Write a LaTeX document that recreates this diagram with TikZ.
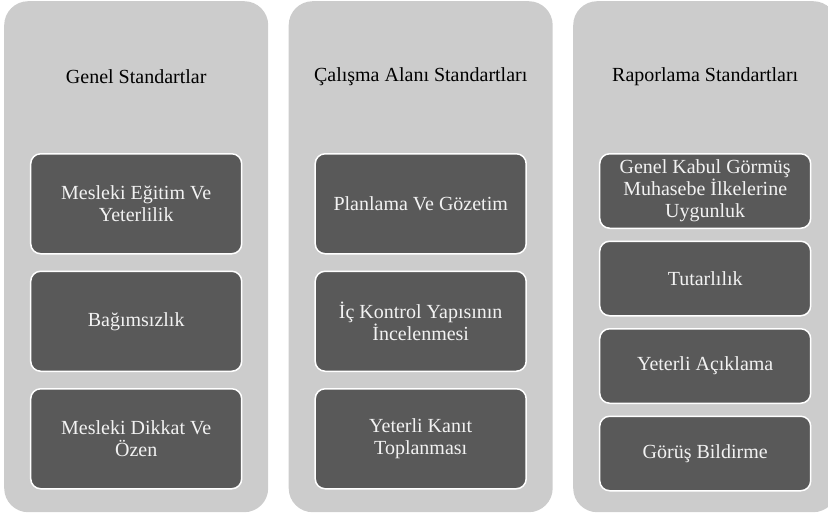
\documentclass[tikz,border=0pt]{standalone}
\usepackage{fontspec}
\setmainfont{Liberation Serif}
\usetikzlibrary{positioning}
\definecolor{panelgray}{HTML}{CCCCCC}
\definecolor{boxgray}{HTML}{595959}
\definecolor{boxtext}{HTML}{F2F2F2}
\tikzset{
    standards/.style={
            node distance=16pt,
            panel/.style={fill=panelgray, rounded corners=24pt, minimum width=264pt,
                    minimum height=511pt, inner sep=0pt, anchor=north west},
            paneltitle/.style={font=\fontsize{20}{22}\selectfont, text=black},
            stdbox/.style={draw=white, line width=1.5pt, fill=boxgray, rounded corners=10pt,
                    text=boxtext, minimum width=211pt, align=center,
                    inner sep=0pt, font=\fontsize{20}{22}\selectfont},
            tallbox/.style={stdbox, minimum height=100pt},
            shortbox/.style={stdbox, minimum height=74.5pt}
        }
    }
\begin{document}
\begin{tikzpicture}[standards]
    \useasboundingbox (0,0) rectangle (828pt,-515pt);
    \node[panel] (genel) at (4pt,-1pt) {};
    \node[panel] (calisma) at (288.5pt,-1pt) {};
    \node[panel] (rapor) at (573pt,-1pt) {};
    \node[paneltitle] (genelT) at ([yshift=-76pt]genel.north) {Genel Standartlar};
    \node[paneltitle] (calismaT) at ([yshift=-76pt]calisma.north) {Çalışma Alanı Standartları};
    \node[paneltitle] (raporT) at ([yshift=-76pt]rapor.north) {Raporlama Standartları};
    % genel standartlar
    \node[tallbox, below=152pt of genel.north] (egitim) {Mesleki Eğitim Ve\\Yeterlilik};
    \node[tallbox, below=of egitim] (bagimsiz) {Bağımsızlık};
    \node[tallbox, below=of bagimsiz] (ozen) {Mesleki Dikkat Ve\\Özen};
    % calisma alani standartlari
    \node[tallbox, below=152pt of calisma.north] (planlama) {Planlama Ve Gözetim};
    \node[tallbox, below=of planlama] (kontrol) {İç Kontrol Yapısının\\İncelenmesi};
    \node[tallbox, below=of kontrol] (kanit) {Yeterli Kanıt\\Toplanması};
    % raporlama standartlari
    \node[shortbox, below=152pt of rapor.north] (ilkeler) {Genel Kabul Görmüş\\Muhasebe İlkelerine\\Uygunluk};
    \node[shortbox, below=11.5pt of ilkeler] (tutarlilik) {Tutarlılık};
    \node[shortbox, below=11.5pt of tutarlilik] (aciklama) {Yeterli Açıklama};
    \node[shortbox, below=11.5pt of aciklama] (gorus) {Görüş Bildirme};
\end{tikzpicture}
\end{document}
